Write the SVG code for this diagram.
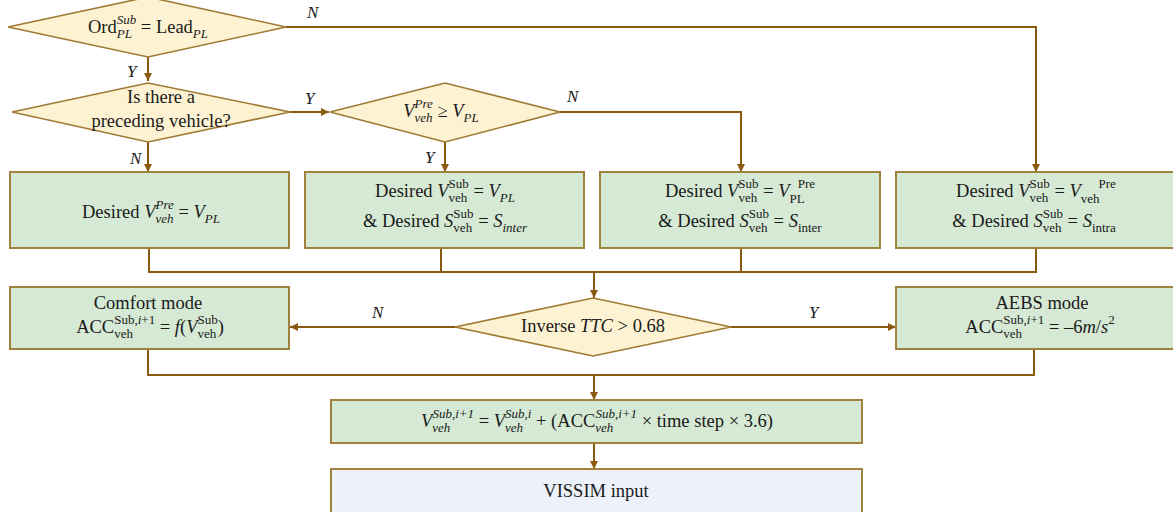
<svg xmlns="http://www.w3.org/2000/svg" width="1173" height="512" viewBox="0 0 1173 512">
  <style>
    text { font-family: "Liberation Serif", "DejaVu Serif", serif; fill: #1a1a1a; }
    .t { font-size: 18.5px; }
    .s { font-size: 13px; }
    .i { font-style: italic; }
    .c { text-anchor: middle; }
    .lbl { font-size: 17px; font-style: italic; }
    .dia { fill: #fdf3d2; stroke: #a07a35; stroke-width: 1.6; }
    .box { fill: #d5e9d4; stroke: #a0823f; stroke-width: 2; }
    .out { fill: #edf2fa; stroke: #a0823f; stroke-width: 2; }
    .ln { fill: none; stroke: #8a5a10; stroke-width: 2; }
  </style>
  <defs>
    <marker id="arr" markerUnits="userSpaceOnUse" markerWidth="10" markerHeight="10" refX="8" refY="4" orient="auto">
      <path d="M0,0 L8,4 L0,8 z" fill="#8a5a10"/>
    </marker>
  </defs>

  <!-- connectors -->
  <g id="connectors">
    <path class="ln" d="M148,57 V81" marker-end="url(#arr)"/>
    <path class="ln" d="M286,27 H1036 V172" marker-end="url(#arr)"/>
    <path class="ln" d="M290,112 H329" marker-end="url(#arr)"/>
    <path class="ln" d="M148,142 V172" marker-end="url(#arr)"/>
    <path class="ln" d="M445,142 V172" marker-end="url(#arr)"/>
    <path class="ln" d="M560,112 H741 V172" marker-end="url(#arr)"/>
    <path class="ln" d="M149,248 V272 H1036 V248 M441,248 V272 M741,248 V272"/>
    <path class="ln" d="M594,272 V298" marker-end="url(#arr)"/>
    <path class="ln" d="M455,327 H290" marker-end="url(#arr)"/>
    <path class="ln" d="M731,327 H896" marker-end="url(#arr)"/>
    <path class="ln" d="M148,349 V375 H1034 V349"/>
    <path class="ln" d="M594,375 V400" marker-end="url(#arr)"/>
    <path class="ln" d="M594,443 V469" marker-end="url(#arr)"/>
    <text class="lbl" x="307" y="18">N</text>
    <text class="lbl" x="127" y="77">Y</text>
    <text class="lbl" x="305" y="104">Y</text>
    <text class="lbl" x="130" y="164">N</text>
    <text class="lbl" x="567" y="102">N</text>
    <text class="lbl" x="425" y="163">Y</text>
    <text class="lbl" x="372" y="318">N</text>
    <text class="lbl" x="809" y="318">Y</text>
  </g>

  <!-- decision: ordering check -->
  <g id="d-order">
    <polygon class="dia" points="8,27 148,-3 286,27 148,57"/>
    <text class="t c" x="148" y="33">Ord<tspan class="s i" dy="5">PL</tspan><tspan class="s i" dx="-15.2" dy="-14">Sub</tspan><tspan dy="9"> = Lead</tspan><tspan class="s i" dy="5">PL</tspan></text>
  </g>

  <!-- decision: preceding vehicle -->
  <g id="d-preceding">
    <polygon class="dia" points="12,112 148,83 290,112 148,142"/>
    <text class="t c" x="161" y="103">Is there a</text>
    <text class="t c" x="161" y="127">preceding vehicle?</text>
  </g>

  <!-- decision: speed comparison -->
  <g id="d-speed">
    <polygon class="dia" points="330,112 445,83 560,112 445,142"/>
    <text class="t c" x="441" y="117"><tspan class="i">V</tspan><tspan class="s i" dy="5">veh</tspan><tspan class="s i" dx="-18" dy="-14">Pre</tspan><tspan dy="9"> ≥ </tspan><tspan class="i">V</tspan><tspan class="s i" dy="5">PL</tspan></text>
  </g>

  <!-- desired-value boxes -->
  <g id="b-nopre">
    <rect class="box" x="10" y="172" width="279" height="76"/>
    <text class="t c" x="151" y="218">Desired <tspan class="i">V</tspan><tspan class="s i" dy="5">veh</tspan><tspan class="s i" dx="-18" dy="-14">Pre</tspan><tspan dy="9"> = </tspan><tspan class="i">V</tspan><tspan class="s i" dy="5">PL</tspan></text>
  </g>

  <g id="b-inter">
    <rect class="box" x="305" y="172" width="279" height="76"/>
    <text class="t c" x="445" y="197">Desired <tspan class="i">V</tspan><tspan class="s" dy="5">veh</tspan><tspan class="s" dx="-18.8" dy="-14">Sub</tspan><tspan dy="9"> = </tspan><tspan class="i">V</tspan><tspan class="s i" dy="5">PL</tspan></text>
    <text class="t c" x="445" y="227">&amp; Desired <tspan class="i">S</tspan><tspan class="s" dy="5">veh</tspan><tspan class="s" dx="-18.8" dy="-14">Sub</tspan><tspan dy="9"> = </tspan><tspan class="i">S</tspan><tspan class="s i" dy="5">inter</tspan></text>
  </g>

  <g id="b-inter-pre">
    <rect class="box" x="600" y="172" width="280" height="76"/>
    <text class="t c" x="740" y="197">Desired <tspan class="i">V</tspan><tspan class="s" dy="5">veh</tspan><tspan class="s" dx="-18.8" dy="-14">Sub</tspan><tspan dy="9"> = </tspan><tspan class="i">V</tspan><tspan class="s" dy="6">PL</tspan><tspan class="s" dx="-7" dy="-15">Pre</tspan></text>
    <text class="t c" x="740" y="227">&amp; Desired <tspan class="i">S</tspan><tspan class="s" dy="5">veh</tspan><tspan class="s" dx="-18.8" dy="-14">Sub</tspan><tspan dy="9"> = </tspan><tspan class="i">S</tspan><tspan class="s" dy="5">inter</tspan></text>
  </g>

  <g id="b-intra">
    <rect class="box" x="896" y="172" width="280" height="76"/>
    <text class="t c" x="1036" y="197">Desired <tspan class="i">V</tspan><tspan class="s" dy="5">veh</tspan><tspan class="s" dx="-18.8" dy="-14">Sub</tspan><tspan dy="9"> = </tspan><tspan class="i">V</tspan><tspan class="s" dy="6">veh</tspan><tspan class="s" dx="-1" dy="-15">Pre</tspan></text>
    <text class="t c" x="1034" y="227">&amp; Desired <tspan class="i">S</tspan><tspan class="s" dy="5">veh</tspan><tspan class="s" dx="-18.8" dy="-14">Sub</tspan><tspan dy="9"> = </tspan><tspan class="i">S</tspan><tspan class="s" dy="5">intra</tspan></text>
  </g>

  <!-- decision: time-to-collision -->
  <g id="d-ttc">
    <polygon class="dia" points="455,327 593,298 731,327 593,356"/>
    <text class="t c" x="593" y="332">Inverse <tspan class="i">TTC</tspan> &gt; 0.68</text>
  </g>

  <!-- driving modes -->
  <g id="b-comfort">
    <rect class="box" x="10" y="287" width="279" height="62"/>
    <text class="t c" x="148" y="309">Comfort mode</text>
    <text class="t c" x="150" y="333">ACC<tspan class="s" dy="5">veh</tspan><tspan class="s" dx="-18.8" dy="-14">Sub,<tspan class="i">i</tspan>+1</tspan><tspan dy="9"> = </tspan><tspan class="i">f</tspan>(<tspan class="i">V</tspan><tspan class="s" dy="5">veh</tspan><tspan class="s" dx="-18.8" dy="-14">Sub</tspan><tspan dy="9">)</tspan></text>
  </g>

  <g id="b-aebs">
    <rect class="box" x="896" y="287" width="280" height="62"/>
    <text class="t c" x="1042" y="309">AEBS mode</text>
    <text class="t c" x="1040" y="333">ACC<tspan class="s" dy="5">veh</tspan><tspan class="s" dx="-18.8" dy="-14">Sub,<tspan class="i">i</tspan>+1</tspan><tspan dy="9"> = –6</tspan><tspan class="i">m</tspan>/<tspan class="i">s</tspan><tspan class="s" dy="-9">2</tspan></text>
  </g>

  <!-- speed update -->
  <g id="b-update">
    <rect class="box" x="331" y="400" width="531" height="43"/>
    <text class="t c" x="597" y="427"><tspan class="i">V</tspan><tspan class="s i" dy="5">veh</tspan><tspan class="s i" dx="-18" dy="-14">Sub,i+1</tspan><tspan dy="9"> = </tspan><tspan class="i">V</tspan><tspan class="s i" dy="5">veh</tspan><tspan class="s i" dx="-18" dy="-14">Sub,i</tspan><tspan dy="9"> + (ACC</tspan><tspan class="s i" dy="5">veh</tspan><tspan class="s i" dx="-18" dy="-14">Sub,i+1</tspan><tspan dy="9"> × time step × 3.6)</tspan></text>
  </g>

  <!-- simulator input -->
  <g id="b-vissim">
    <rect class="out" x="331" y="469" width="531" height="50"/>
    <text class="t c" x="596" y="497">VISSIM input</text>
  </g>
</svg>
